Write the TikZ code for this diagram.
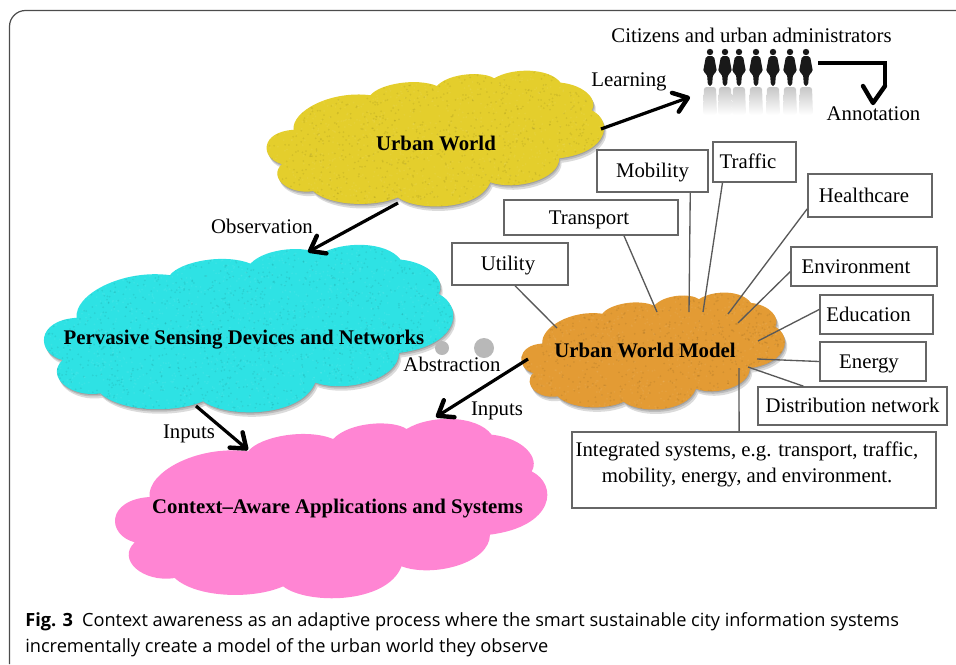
\documentclass[tikz,border=0pt]{standalone}
\usepackage{fontspec}
\setmainfont{Liberation Serif}
\newfontfamily\capfont{Open Sans}
\usetikzlibrary{arrows.meta}
\definecolor{urbancol}{HTML}{E4CE2C}
\definecolor{sensingcol}{HTML}{2EE2E4}
\definecolor{contextcol}{HTML}{FF85D3}
\definecolor{modelcol}{HTML}{E39B34}
\tikzset{
  blob/.style n args={4}{shift={(#1,#2)},xscale=#3/1298,yscale=#4/543,shift={(-40,-25)}},
  title/.style={font=\fontsize{15.6}{18}\selectfont\bfseries,inner sep=0pt,text height=10pt,text depth=0pt},
  label/.style={font=\fontsize{15.6}{18}\selectfont,inner sep=0pt,text height=10pt,text depth=0pt},
  topic/.style={draw=black!60,line width=1.2pt,fill=white,font=\fontsize{15.6}{18}\selectfont,
    inner sep=0pt,text height=10pt,text depth=0pt},
  flow/.style={line width=2.4pt,-{Straight Barb[length=10pt,width=15pt,line width=3.3pt,round]}},
  link/.style={draw=black!65,line width=1pt},
  capline/.style={anchor=base west,inner sep=0pt,font=\capfont\fontsize{13.65}{17}\selectfont},
}
\newcommand{\cloudline}{(150,262) .. controls (140,190) and (290,105) .. (445,125)
  .. controls (480,80) and (620,55) .. (700,88)
  .. controls (750,35) and (880,30) .. (920,58)
  .. controls (990,15) and (1130,15) .. (1175,75)
  .. controls (1270,85) and (1320,145) .. (1295,185)
  .. controls (1375,225) and (1365,350) .. (1170,375)
  .. controls (1170,460) and (1000,505) .. (905,470)
  .. controls (860,585) and (620,585) .. (550,530)
  .. controls (460,570) and (290,565) .. (225,505)
  .. controls (130,520) and (50,450) .. (105,398)
  .. controls (20,375) and (20,270) .. (150,262) -- cycle}
% x, y, width, height, colour, grain dots
\newcommand{\cloudblob}[6]{
  \foreach \off in {1,2.5,4.5} {
    \fill[black,opacity=.14,xshift=\off*.4pt,yshift=-\off*.75pt,blob={#1}{#2}{#3}{#4}] \cloudline;
  }
  \fill[#5,blob={#1}{#2}{#3}{#4}] \cloudline;
  \begin{scope}
    \clip[blob={#1}{#2}{#3}{#4}] \cloudline;
    \foreach \g in {1,...,#6} {
      \fill[black,opacity=.07] ({#1+#3*rnd},{#2+#4*rnd}) circle (1);
      \fill[white,opacity=.06] ({#1+#3*rnd},{#2+#4*rnd}) circle (1);
    }
  \end{scope}
}
\newcommand{\topicbox}[6]{\node[topic,minimum width=#3*.75pt,minimum height=#4*.75pt] (#1) at (#2) {#5\hspace*{#6}};}
\begin{document}
\begin{tikzpicture}[x=.75pt,y=-.75pt]
\useasboundingbox (0,0) rectangle (956,664);
\pgfmathsetseed{7}
% frame
\draw[black!70,line width=.9pt,rounded corners=12pt] (970,10.5) -- (9.5,10.5) -- (9.5,664);

% clouds
\cloudblob{265}{70}{338}{137}{urbancol}{1000}
\cloudblob{42}{244}{410}{169}{sensingcol}{1500}
\fill[contextcol,blob={113}{418}{433}{181}] \cloudline;
\cloudblob{520}{292}{264}{118}{modelcol}{700}
\node[title] (urbantext) at (436,144) {Urban World};
\node[title] (sensingtext) at (244,338) {Pervasive Sensing Devices and Networks};
\node[title] (contexttext) at (337.5,507) {Context--Aware Applications and Systems};
\node[title] (modeltext) at (645,351) {Urban World Model};

% boxes
\topicbox{mobility}{652.5,171}{111}{42}{Mobility}{0pt}
\topicbox{traffic}{754.5,162}{83}{40}{Traffic}{9.75pt}
\topicbox{healthcare}{870,195.5}{124}{43}{Healthcare}{9pt}
\topicbox{transport}{591,217.5}{174}{35}{Transport}{3pt}
\topicbox{utility}{510,264}{116}{42}{Utility}{3pt}
\topicbox{environment}{864,266.5}{146}{39}{Environment}{12pt}
\topicbox{education}{876.5,314.5}{113}{39}{Education}{12pt}
\topicbox{energy}{873,361.5}{106}{39}{Energy}{6pt}
\topicbox{distribution}{852.5,406}{189}{38}{Distribution network}{0pt}
\topicbox{integrated}{754,470}{364}{76}{}{0pt}
\node[inner sep=0pt,align=center,font=\fontsize{15.6}{19.5}\selectfont] (integratedtext) at (747,464.5)
  {Integrated systems, e.g. transport, traffic,\\mobility, energy, and environment.};

% links
\coordinate (mUtility) at (557,328);
\coordinate (mTransport) at (657,312);
\coordinate (mMobility) at (689,312);
\coordinate (mTraffic) at (703,312);
\coordinate (mHealth) at (728,314);
\coordinate (mEnv) at (738,323);
\coordinate (mEdu) at (758,341);
\coordinate (mEnergy) at (757,359);
\coordinate (mDist) at (748,367);
\coordinate (mInt) at (739,368);
\draw[link] (utility.283) -- (mUtility);
\draw[link] (transport.331) -- (mTransport);
\draw[link] (mobility.330) -- (mMobility);
\draw[link] (traffic.213) -- (mTraffic);
\draw[link] (healthcare.192) -- (mHealth);
\draw[link] (environment.184) -- (mEnv);
\draw[link] (education.175) -- (mEdu);
\draw[link] (energy.west) -- (mEnergy);
\draw[link] (distribution.158) -- (mDist);
\draw[link] (integrated.111) -- (mInt);

% people
\foreach \px in {710,725,739,756,773,790,806} {
  \shade[top color=black!22,bottom color=white,rounded corners=2pt] (\px-6,87) -- (\px+6,87) -- (\px+7,115) -- (\px-7,115) -- cycle;
  \fill[black!90] (\px,52) circle (3.2);
  \fill[black!90,rounded corners=1.5pt] (\px-4,56) -- (\px+4,56) -- (\px+7,72) -- (\px+3,74) -- (\px+2,86) -- (\px-2,86) -- (\px-3,74) -- (\px-7,72) -- cycle;
}

% arrows
\coordinate (urbanout) at (601,129);
\coordinate (peoplein) at (690,97);
\coordinate (urbandown) at (398,203);
\coordinate (sensingin) at (308,252);
\coordinate (sensingout) at (196,406);
\coordinate (contextin) at (248,450);
\coordinate (modelout) at (528,359);
\coordinate (contextinb) at (436,417);
\draw[flow] (urbanout) -- (peoplein);
\draw[flow] (urbandown) -- (sensingin);
\draw[flow] (sensingout) -- (contextin);
\draw[flow] (modelout) -- (contextinb);
\coordinate (peopleout) at (818,63);
\coordinate (annotin) at (885,86);
\draw[line width=2.4pt] (peopleout) -| (annotin);
\draw[line width=3.3pt,line join=round,line cap=round] (863,86) -- (873,103) -- (annotin);

% grey dots
\fill[black!28] (442,348) circle (7);
\fill[black!28] (484,348) circle (10);

% labels
\node[label] (citizens) at (751.5,36) {Citizens and urban administrators};
\node[label] (learning) at (629,80) {Learning};
\node[label] (annotation) at (873.5,114) {Annotation};
\node[label] (observation) at (262,227) {Observation};
\node[label] (abstraction) at (452,365) {Abstraction};
\node[label] (inputsa) at (189,432) {Inputs};
\node[label] (inputsb) at (497,409) {Inputs};

% caption
\node[capline] (capa) at (25,626) {\textbf{Fig. 3}\hspace{.5em}Context awareness as an adaptive process where the smart sustainable city information systems};
\node[capline] (capb) at (25,652) {incrementally create a model of the urban world they observe};
\end{tikzpicture}
\end{document}
